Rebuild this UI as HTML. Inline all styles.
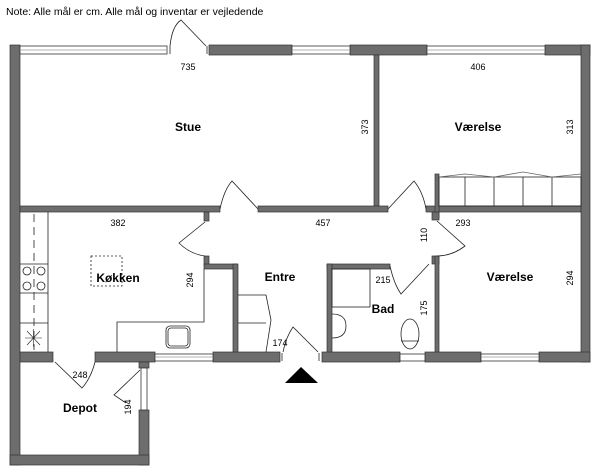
<!DOCTYPE html>
<html><head><meta charset="utf-8"><style>
html,body{margin:0;padding:0;background:#fff;width:600px;height:475px;overflow:hidden}
svg{display:block}
text{font-family:"Liberation Sans",sans-serif;fill:#000}
.b{font-weight:bold;font-size:12px}
.d{font-size:9px}
</style></head><body>
<svg width="600" height="475" viewBox="0 0 600 475">
<text x="6" y="15" font-size="10.5">Note: Alle mål er cm. Alle mål og inventar er vejledende</text>
<g fill="#6d6d6d" stroke="#333" stroke-width="0.7">
<!-- top wall dark parts -->
<rect x="10" y="45" width="10" height="420"/>
<rect x="209" y="45" width="83" height="10"/>
<rect x="350" y="45" width="77" height="10"/>
<rect x="545" y="45" width="45" height="10"/>
<rect x="581" y="45" width="9" height="317"/>
<!-- stue/vaerelse partition -->
<rect x="374" y="55" width="5" height="151"/>
<!-- horizontal middle wall -->
<rect x="20" y="206" width="200" height="6"/>
<rect x="258" y="206" width="130" height="6"/>
<rect x="426" y="206" width="155" height="6"/>
<rect x="435" y="174" width="4" height="44"/>
<!-- kitchen/entre -->
<rect x="204" y="212" width="5" height="9"/>
<rect x="204" y="256" width="5" height="9"/>
<rect x="204" y="264" width="33" height="5"/>
<rect x="233" y="264" width="5" height="89"/>
<!-- bad -->
<rect x="327" y="264" width="63" height="5"/>
<rect x="327" y="264" width="5" height="89"/>
<rect x="432" y="212" width="7" height="8"/>
<rect x="432" y="256" width="7" height="8"/>
<rect x="435" y="256" width="4" height="97"/>
<!-- bottom wall -->
<rect x="20" y="352" width="33" height="10"/>
<rect x="95" y="352" width="60" height="10"/>
<rect x="213" y="352" width="67" height="10"/>
<rect x="322" y="352" width="78" height="10"/>
<rect x="425" y="352" width="56" height="10"/>
<rect x="539" y="352" width="51" height="10"/>
<!-- depot -->
<rect x="139" y="362" width="10" height="6"/>
<rect x="139" y="410" width="10" height="55"/>
<rect x="10" y="455" width="139" height="10"/>
</g>
<g fill="#fff" stroke="#333" stroke-width="0.8">
<!-- windows -->
<rect x="20" y="46" width="147" height="8"/>
<rect x="292" y="46" width="58" height="8"/>
<rect x="427" y="46" width="118" height="8"/>
<rect x="155" y="354" width="58" height="7"/>
<rect x="400" y="354" width="25" height="7"/>
<rect x="481" y="354" width="58" height="7"/>
<rect x="141" y="368" width="6" height="42"/>
</g>
<g fill="none" stroke="#999" stroke-width="0.8">
<line x1="20" y1="50" x2="167" y2="50"/><line x1="292" y1="50" x2="350" y2="50"/><line x1="427" y1="50" x2="545" y2="50"/>
<line x1="155" y1="357" x2="213" y2="357"/><line x1="481" y1="357" x2="539" y2="357"/>
</g>
<g fill="none" stroke="#222" stroke-width="0.8">
<!-- top entry door -->
<line x1="170" y1="46" x2="170" y2="54"/><line x1="207" y1="46" x2="207" y2="54"/>
<path d="M170,46 Q172,26 181,20 L206,46"/>
<!-- stue door -->
<path d="M220,209 Q224,190 232,181 L258,209"/>
<!-- vaerelse1 door -->
<path d="M388,209 L414,181 Q423,192 426,209"/>
<!-- vaerelse2 door -->
<path d="M437,221 L465,246 Q452,256 437,256"/>
<!-- kitchen door -->
<path d="M205,222 L179,243 Q190,254 205,256"/>
<!-- bad door -->
<path d="M390,266 Q394,284 401,294 L429,264"/>
<!-- entry door -->
<line x1="282" y1="353" x2="282" y2="361"/><line x1="319" y1="353" x2="319" y2="361"/>
<path d="M283,352 Q286,337 293,327 L318,352"/>
<!-- depot door -->
<path d="M55,362 L82,388 Q91,378 95,362"/>
<path d="M140,370 L114,395 L126,403"/>
<!-- closet vaerelse -->
<rect x="439" y="177" width="142" height="29"/>
<line x1="465" y1="177" x2="465" y2="206"/><line x1="494" y1="177" x2="494" y2="206"/><line x1="523" y1="177" x2="523" y2="206"/><line x1="552" y1="177" x2="552" y2="206"/>
<path d="M439,177 L465,174 L494,177 L523,172 L552,177 L581,174" stroke="#666"/>
<!-- kitchen counters -->
<line x1="48" y1="212" x2="48" y2="352"/>
<line x1="34" y1="214" x2="34" y2="350" stroke-dasharray="8,5"/>
<line x1="20" y1="264" x2="48" y2="264"/><line x1="20" y1="293" x2="48" y2="293"/><line x1="20" y1="323" x2="48" y2="323"/>
<circle cx="27" cy="271" r="4"/><circle cx="41" cy="271" r="4"/><circle cx="27" cy="286" r="4"/><circle cx="41" cy="286" r="4"/>
<path d="M27,331 L40,345 M40,331 L27,345 M33.5,329 L33.5,347 M25,338 L42,338" stroke-width="0.6"/>
<path d="M117,352 L117,322 L204,322 L204,269"/>
<rect x="166" y="326" width="24" height="22" rx="4"/><rect x="168" y="328" width="20" height="18" rx="3"/>
<rect x="91" y="256" width="31" height="30" stroke-dasharray="2,2"/>
<!-- entre closet -->
<path d="M238,295 L266,295 L271,320 L266,352 M238,323 L266,323"/>
<!-- bad -->
<rect x="332" y="269" width="38" height="38"/>
<path d="M332,314 Q346,314 346,326 Q346,338 332,338"/>
<ellipse cx="410" cy="334" rx="9" ry="15"/><line x1="401" y1="341" x2="419" y2="341"/>
</g>
<polygon points="301,367 285,383 318,383" fill="#000"/>
<text class="b" x="188" y="131" text-anchor="middle">Stue</text>
<text class="b" x="478" y="131" text-anchor="middle">Værelse</text>
<text class="b" x="118" y="282" text-anchor="middle">Køkken</text>
<text class="b" x="280" y="281" text-anchor="middle">Entre</text>
<text class="b" x="383" y="313" text-anchor="middle">Bad</text>
<text class="b" x="510" y="281" text-anchor="middle">Værelse</text>
<text class="b" x="80" y="412" text-anchor="middle">Depot</text>
<g class="d" text-anchor="middle">
<text x="188" y="70">735</text><text x="478" y="70">406</text>
<text x="118" y="226">382</text><text x="323" y="226">457</text><text x="463" y="226">293</text>
<text x="383" y="283">215</text><text x="280" y="346">174</text><text x="80" y="378">248</text>
<text transform="translate(368,127) rotate(-90)">373</text>
<text transform="translate(573,127) rotate(-90)">313</text>
<text transform="translate(427,235) rotate(-90)">110</text>
<text transform="translate(193,280) rotate(-90)">294</text>
<text transform="translate(427,308) rotate(-90)">175</text>
<text transform="translate(573,278) rotate(-90)">294</text>
<text transform="translate(131,407) rotate(-90)">194</text>
</g>
</svg>
</body></html>
